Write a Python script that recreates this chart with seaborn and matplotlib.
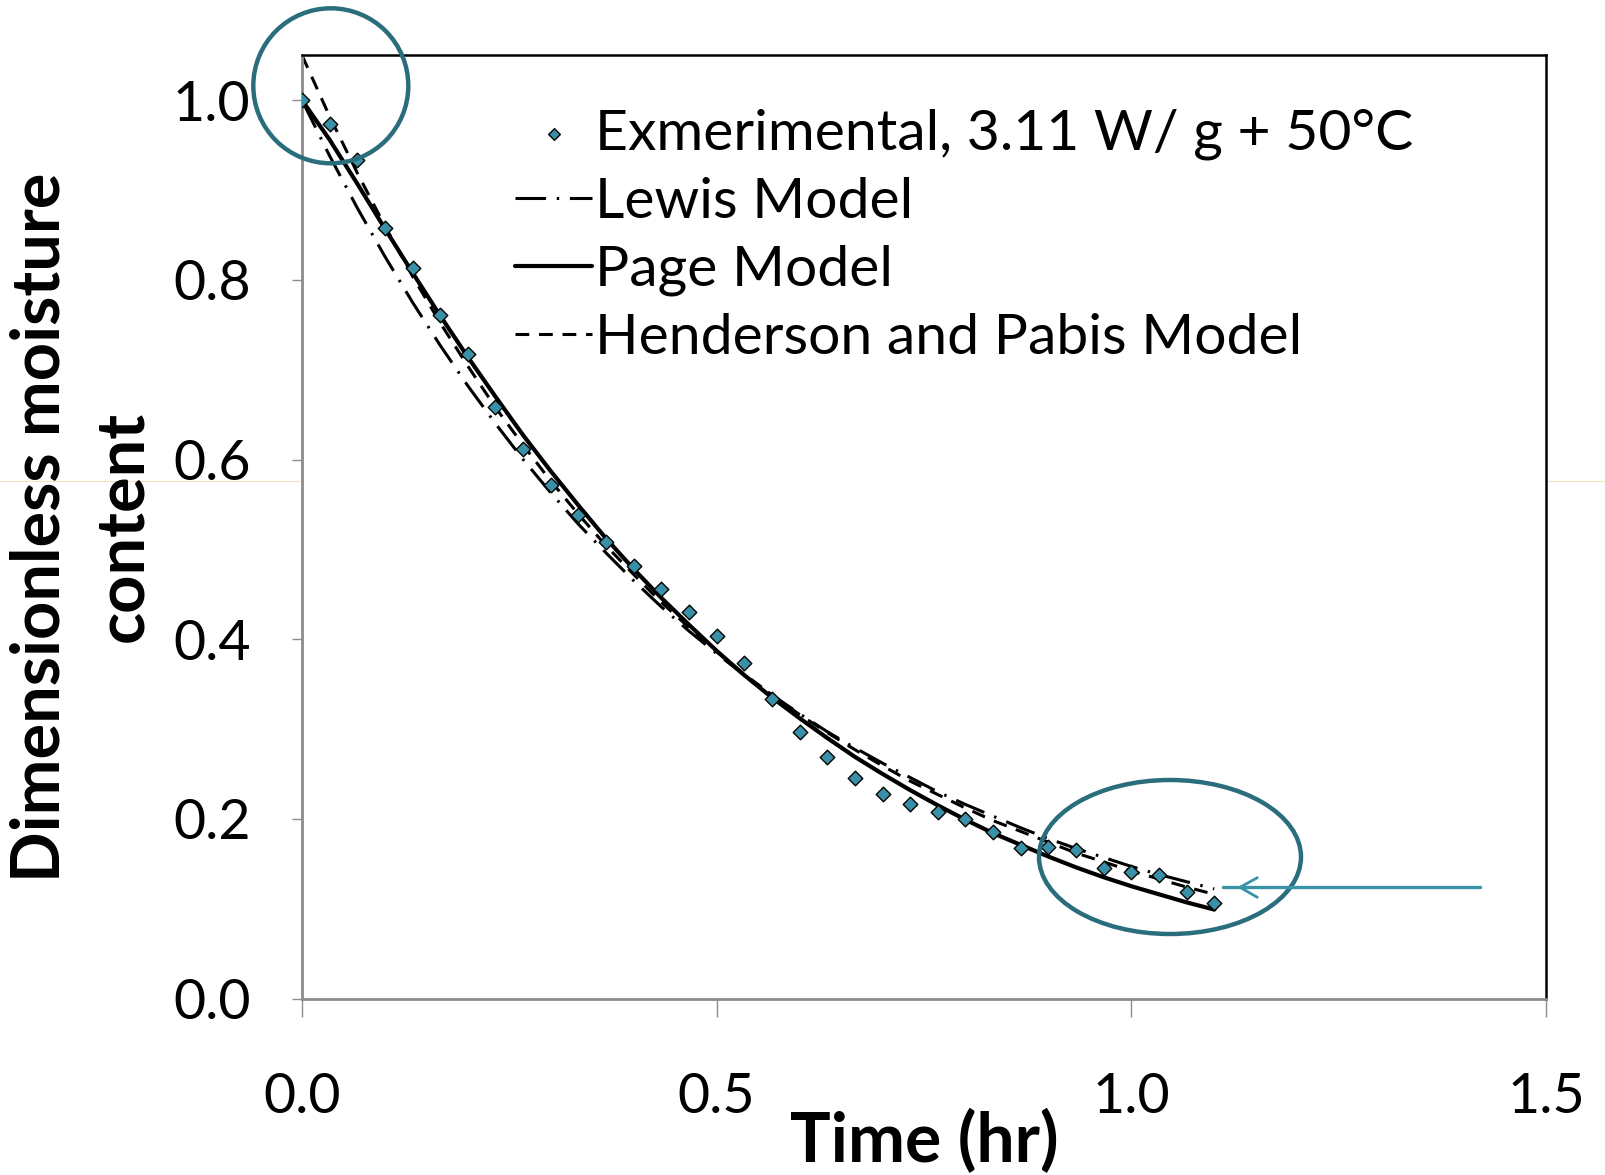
import matplotlib
matplotlib.use("Agg")
import matplotlib.pyplot as plt
import seaborn as sns
from matplotlib.patches import Ellipse
from matplotlib.lines import Line2D
from matplotlib.ticker import FormatStrFormatter

# ---------------- data ----------------
time_hr = [0.0, 0.0333, 0.0667, 0.1, 0.1333, 0.1667, 0.2, 0.2333, 0.2667, 0.3,
           0.3333, 0.3667, 0.4, 0.4333, 0.4667, 0.5, 0.5333, 0.5667, 0.6, 0.6333,
           0.6667, 0.7, 0.7333, 0.7667, 0.8, 0.8333, 0.8667, 0.9, 0.9333, 0.9667,
           1.0, 1.0333, 1.0667, 1.1]

experimental = [1.000, 0.974, 0.934, 0.858, 0.813, 0.761, 0.718, 0.659, 0.612, 0.572,
                0.538, 0.508, 0.482, 0.456, 0.430, 0.404, 0.373, 0.333, 0.297, 0.269,
                0.246, 0.228, 0.217, 0.208, 0.200, 0.185, 0.168, 0.169, 0.165, 0.145,
                0.141, 0.138, 0.119, 0.106]

lewis_model = [1.000, 0.938, 0.880, 0.826, 0.775, 0.727, 0.682, 0.640, 0.600, 0.563,
               0.528, 0.496, 0.465, 0.436, 0.409, 0.384, 0.360, 0.338, 0.317, 0.297,
               0.279, 0.262, 0.246, 0.230, 0.216, 0.203, 0.190, 0.178, 0.167, 0.157,
               0.147, 0.138, 0.130, 0.122]

page_model = [1.000, 0.956, 0.907, 0.857, 0.808, 0.760, 0.714, 0.670, 0.627, 0.587,
              0.549, 0.512, 0.478, 0.446, 0.416, 0.387, 0.360, 0.335, 0.312, 0.290,
              0.269, 0.250, 0.232, 0.215, 0.199, 0.184, 0.171, 0.158, 0.146, 0.135,
              0.125, 0.116, 0.107, 0.099]

henderson_pabis = [1.050, 0.982, 0.919, 0.860, 0.804, 0.752, 0.704, 0.658, 0.616, 0.576,
                   0.539, 0.504, 0.472, 0.441, 0.413, 0.386, 0.361, 0.338, 0.316, 0.296,
                   0.277, 0.259, 0.242, 0.227, 0.212, 0.198, 0.186, 0.174, 0.162, 0.152,
                   0.142, 0.133, 0.124, 0.116]

x_ticks = [0.0, 0.5, 1.0, 1.5]
y_ticks = [0.0, 0.2, 0.4, 0.6, 0.8, 1.0]

label_exp = "Exmerimental, 3.11 W/ g + 50°C"
label_lewis = "Lewis Model"
label_page = "Page Model"
label_hp = "Henderson and Pabis Model"

# ---------------- style ----------------
sns.set_style("white")
plt.rcParams["font.family"] = ["Lato", "DejaVu Sans"]
plt.rcParams["text.color"] = "black"
plt.rcParams["axes.labelcolor"] = "black"

W, H = 1605, 1175
fig = plt.figure(figsize=(W / 100, H / 100), dpi=100)
ax = fig.add_axes([302 / W, 1 - 998.5 / H, (1546 - 302) / W, (998.5 - 55.3) / H])

teal_marker = "#3A90A6"

sns.lineplot(x=time_hr, y=lewis_model, ax=ax, color="black", lw=2.2,
             linestyle=(0, (10, 3.5, 0.8, 3.5)), estimator=None, label=label_lewis)
sns.lineplot(x=time_hr, y=page_model, ax=ax, color="black", lw=3.0,
             estimator=None, label=label_page)
sns.lineplot(x=time_hr, y=henderson_pabis, ax=ax, color="black", lw=2.2,
             linestyle=(0, (4.5, 3.2)), estimator=None, label=label_hp)
sns.scatterplot(x=time_hr, y=experimental, ax=ax, marker="D", s=55,
                color=teal_marker, edgecolor="black", linewidth=1.0,
                label=label_exp, zorder=5)

ax.set_xlim(0, 1.5)
ax.set_ylim(0, 1.05)
ax.set_xticks(x_ticks)
ax.set_yticks(y_ticks)
ax.xaxis.set_major_formatter(FormatStrFormatter("%.1f"))
ax.yaxis.set_major_formatter(FormatStrFormatter("%.1f"))

for side in ("left", "bottom"):
    ax.spines[side].set_color("#8C8C8C")
    ax.spines[side].set_linewidth(2.0)
for side in ("top", "right"):
    ax.spines[side].set_color("black")
    ax.spines[side].set_linewidth(1.8)

ax.tick_params(axis="x", which="major", direction="out", length=13, width=1.0,
               color="#8C8C8C", labelsize=40, pad=40, labelcolor="black")
ax.tick_params(axis="y", which="major", direction="out", length=7, width=1.0,
               color="#8C8C8C", labelsize=40, pad=30, labelcolor="black")
ax.tick_params(left=True, bottom=True)

ax.set_xlabel("Time (hr)", fontsize=49, fontweight="bold", va="top")
ax.xaxis.set_label_coords(0.5, -0.117)
ax.set_ylabel("Dimensionless moisture\ncontent", fontsize=48, fontweight="bold",
              linespacing=1.4)
ax.yaxis.set_label_coords(-0.119, 0.5)

# legend in the reference order
handles, labels = ax.get_legend_handles_labels()
order = [labels.index(l) for l in (label_exp, label_lewis, label_page, label_hp)]
leg = ax.legend([handles[i] for i in order], [labels[i] for i in order],
                loc="upper left", bbox_to_anchor=(515 / W, 1 - 108 / H),
                bbox_transform=fig.transFigure, frameon=False, fontsize=41,
                handlelength=1.36, handletextpad=0.05, labelspacing=0.3,
                borderpad=0, borderaxespad=0, markerscale=0.8)
for t in leg.get_texts():
    t.set_color("black")

# ---------------- slide annotations ----------------
ell_color = "#2A6D7D"
fig.add_artist(Ellipse((330.8 / W, 1 - 85.8 / H), 2 * 77.5 / W, 2 * 77.5 / H,
                       transform=fig.transFigure, fill=False, lw=3.2,
                       edgecolor=ell_color, zorder=10))
fig.add_artist(Ellipse((1170 / W, 1 - 857 / H), 2 * 131 / W, 2 * 77 / H,
                       transform=fig.transFigure, fill=False, lw=3.2,
                       edgecolor=ell_color, zorder=10))
arrow_color = "#3A93A8"
ya = 1 - 887.3 / H
fig.add_artist(Line2D([1223 / W, 1480 / W], [ya, ya], transform=fig.transFigure,
                      color=arrow_color, lw=2.4, zorder=10))
fig.add_artist(Line2D([1257.3 / W, 1240 / W, 1257.3 / W],
                      [1 - 877.7 / H, ya, 1 - 897.3 / H], transform=fig.transFigure,
                      color=arrow_color, lw=2.0, zorder=10))
# faint guide line across the slide
fig.add_artist(Line2D([0, 1], [1 - 481 / H, 1 - 481 / H], transform=fig.transFigure,
                      color="#EFE4BF", lw=0.8, zorder=0))

fig.savefig("out.png", dpi=100)
